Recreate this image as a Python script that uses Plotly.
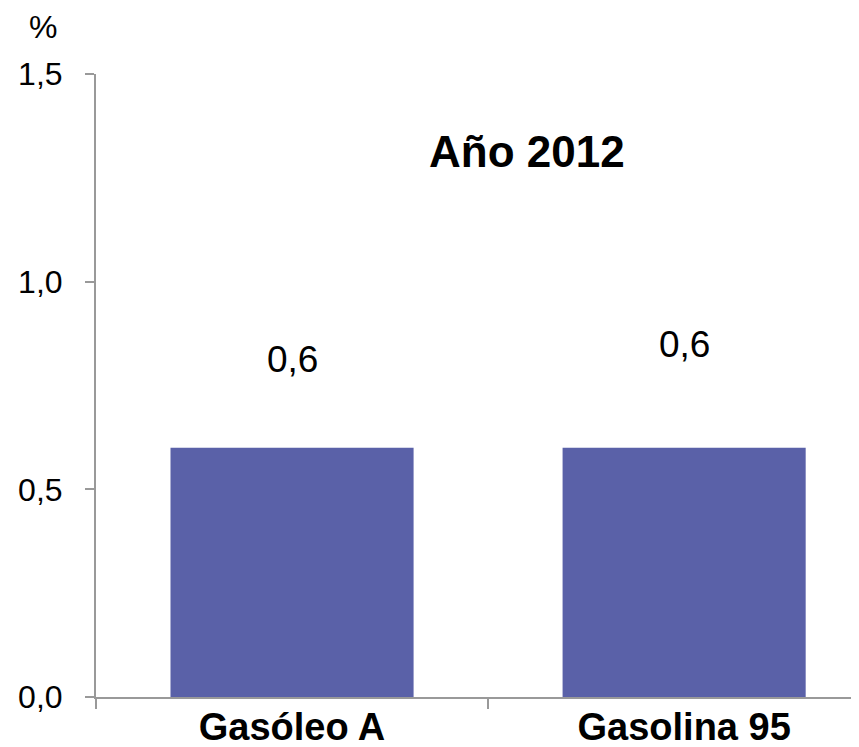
import plotly.graph_objects as go

categories = ["Gasóleo A", "Gasolina 95"]
values = [0.6, 0.6]
value_labels = ["0,6", "0,6"]
y_tickvals = [0, 0.5, 1.0, 1.5]
y_ticktext = ["0,0", "0,5", "1,0", "1,5"]
title_text = "Año 2012"
unit_text = "%"

FONT = "Arial, Liberation Sans, sans-serif"
AXIS_COLOR = "#999999"
BAR_COLOR = "#5a61a8"

# page body has an 8px default margin; compensate
OFF = 8

fig = go.Figure()
fig.add_trace(go.Bar(
    x=categories, y=values, width=0.62,
    marker=dict(color=BAR_COLOR, line=dict(width=0)),
    hoverinfo="skip",
))

label_shifts = [88, 103]
for cat, v, lab, sh in zip(categories, values, value_labels, label_shifts):
    fig.add_annotation(x=cat, y=v, xref="x", yref="y", text=lab, showarrow=False,
                       yanchor="middle", yshift=sh,
                       font=dict(family=FONT, size=37, color="black"))

fig.add_annotation(x=(527 - 96) / 763, y=(697 - 152) / 623, xref="paper", yref="paper",
                   text=f"<b>{title_text}</b>", showarrow=False, xanchor="center", yanchor="middle",
                   font=dict(family=FONT, size=44, color="black"))
fig.add_annotation(x=(43 - 96) / 763, y=(697 - 27) / 623, xref="paper", yref="paper",
                   text=unit_text, showarrow=False, xanchor="center", yanchor="middle",
                   font=dict(family=FONT, size=32, color="black"))

fig.update_layout(
    width=859 - OFF, height=747 - OFF,
    margin=dict(l=96 - OFF, r=0, t=74 - OFF, b=50, autoexpand=False),
    plot_bgcolor="white", paper_bgcolor="white",
    showlegend=False,
    font=dict(family=FONT, color="black"),
)
fig.update_xaxes(
    type="category", range=[-0.5, 1.446], automargin=False,
    showline=True, linecolor=AXIS_COLOR, linewidth=2,
    ticks="outside", tickson="boundaries", ticklen=10, tickcolor=AXIS_COLOR, tickwidth=2,
    showgrid=False, zeroline=False,
    tickfont=dict(family=FONT, size=38, color="black"),
    ticktext=[f"<b>{c}</b>" for c in categories], tickvals=categories,
    ticklabelstandoff=-5,
)
fig.update_yaxes(
    range=[0, 1.5], tickvals=y_tickvals, ticktext=y_ticktext, automargin=False,
    showline=True, linecolor=AXIS_COLOR, linewidth=2,
    ticks="outside", ticklen=9, tickcolor=AXIS_COLOR, tickwidth=2,
    showgrid=False, zeroline=False,
    tickfont=dict(family=FONT, size=32, color="black"),
    ticklabelstandoff=16,
)

fig.write_html("out.html")
